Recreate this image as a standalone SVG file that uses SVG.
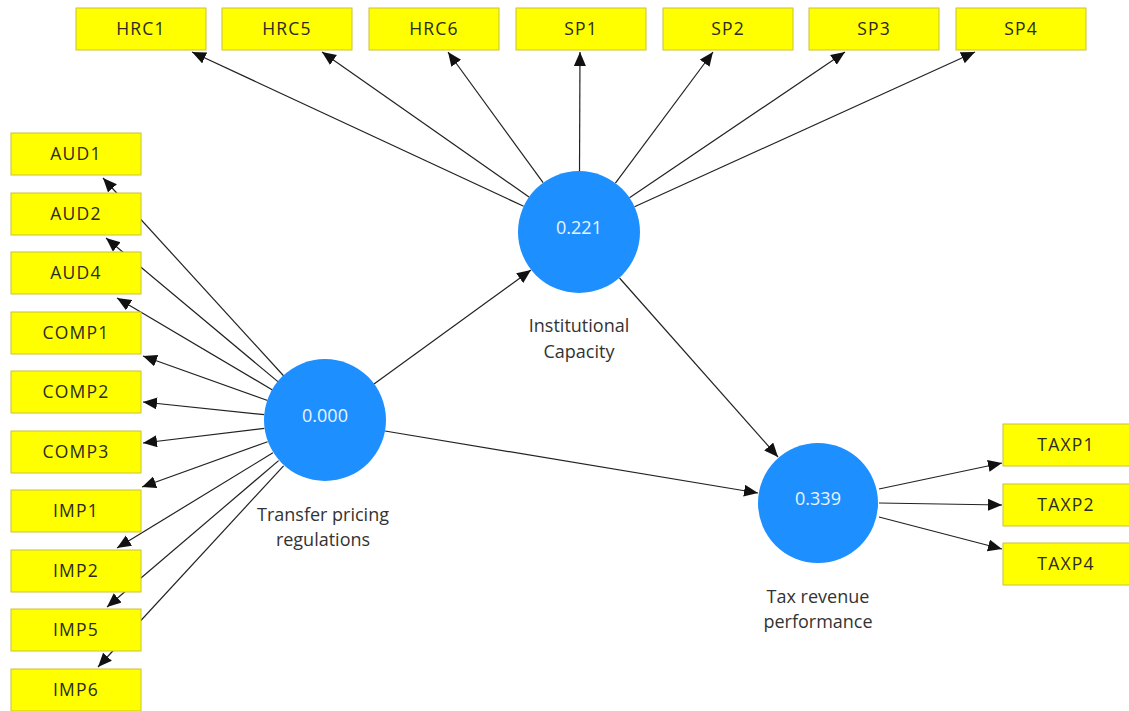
<svg xmlns="http://www.w3.org/2000/svg" width="1129" height="711" viewBox="0 0 1129 711">
  <style>
    .ind rect { fill: #ffff00; stroke: #c9c23a; stroke-width: 1; }
    .ind text { font-family: "Open Sans", "Noto Sans", sans-serif; font-size: 17.5px; fill: #2b2b1e; text-anchor: middle; letter-spacing: 1.2px; }
    .lv circle { fill: #1e8fff; }
    .lv .val { font-family: "Open Sans", "Noto Sans", sans-serif; font-size: 18px; fill: #eaf4ff; text-anchor: middle; }
    .lv .name { font-family: "Open Sans", "Noto Sans", sans-serif; font-size: 18px; fill: #333333; text-anchor: middle; }
    .edge { stroke: #222222; stroke-width: 1.2; fill: none; marker-end: url(#arrow); }
  </style>
  <defs>
    <marker id="arrow" markerUnits="userSpaceOnUse" markerWidth="15" markerHeight="13" refX="14" refY="6" orient="auto">
      <path d="M0,0 L14,6 L0,12 Z" fill="#111111"/>
    </marker>
  </defs>
  <rect width="1129" height="711" fill="#ffffff"/>

  <!-- connectors (drawn under the nodes) -->
  <g id="connectors">
    <!-- Institutional Capacity -> indicators -->
    <line class="edge" x1="523.7" y1="206.3" x2="192" y2="52"/>
    <line class="edge" x1="529" y1="197" x2="322" y2="52"/>
    <line class="edge" x1="543.1" y1="182.7" x2="448" y2="52"/>
    <line class="edge" x1="579.5" y1="171" x2="580" y2="52"/>
    <line class="edge" x1="615.4" y1="183.1" x2="713" y2="52"/>
    <line class="edge" x1="629.5" y1="197.8" x2="845" y2="52"/>
    <line class="edge" x1="634.5" y1="206.8" x2="975" y2="52"/>
    <!-- Transfer pricing regulations -> indicators -->
    <line class="edge" x1="283.8" y1="376" x2="103" y2="178"/>
    <line class="edge" x1="278.2" y1="381.9" x2="106" y2="238"/>
    <line class="edge" x1="272.5" y1="390" x2="117" y2="298"/>
    <line class="edge" x1="267.6" y1="400.5" x2="143" y2="356"/>
    <line class="edge" x1="264.3" y1="414.7" x2="143" y2="402"/>
    <line class="edge" x1="264.4" y1="428.3" x2="143" y2="443"/>
    <line class="edge" x1="267.6" y1="441.7" x2="142" y2="487"/>
    <line class="edge" x1="272.9" y1="452.8" x2="117" y2="548"/>
    <line class="edge" x1="278.6" y1="460.6" x2="107" y2="607"/>
    <line class="edge" x1="283.6" y1="465.8" x2="98" y2="667"/>
    <!-- structural paths -->
    <line class="edge" x1="374" y1="384" x2="531" y2="270"/>
    <line class="edge" x1="619.5" y1="278" x2="778" y2="457"/>
    <line class="edge" x1="385" y1="431" x2="758" y2="493"/>
    <!-- Tax revenue performance -> indicators -->
    <line class="edge" x1="879" y1="489" x2="1002" y2="463"/>
    <line class="edge" x1="879" y1="503" x2="1002" y2="505"/>
    <line class="edge" x1="879" y1="517" x2="1002" y2="549"/>
  </g>

  <!-- indicators of Institutional Capacity -->
  <g id="HRC1" class="ind"><rect x="76" y="8" width="130" height="42"/><text x="141" y="35">HRC1</text></g>
  <g id="HRC5" class="ind"><rect x="222" y="8" width="130" height="42"/><text x="287" y="35">HRC5</text></g>
  <g id="HRC6" class="ind"><rect x="369" y="8" width="130" height="42"/><text x="434" y="35">HRC6</text></g>
  <g id="SP1" class="ind"><rect x="516" y="8" width="130" height="42"/><text x="581" y="35">SP1</text></g>
  <g id="SP2" class="ind"><rect x="663" y="8" width="130" height="42"/><text x="728" y="35">SP2</text></g>
  <g id="SP3" class="ind"><rect x="809" y="8" width="130" height="42"/><text x="874" y="35">SP3</text></g>
  <g id="SP4" class="ind"><rect x="956" y="8" width="130" height="42"/><text x="1021" y="35">SP4</text></g>

  <!-- indicators of Transfer pricing regulations -->
  <g id="AUD1" class="ind"><rect x="11" y="133" width="130" height="42"/><text x="76" y="160">AUD1</text></g>
  <g id="AUD2" class="ind"><rect x="11" y="193" width="130" height="42"/><text x="76" y="220">AUD2</text></g>
  <g id="AUD4" class="ind"><rect x="11" y="252" width="130" height="42"/><text x="76" y="279">AUD4</text></g>
  <g id="COMP1" class="ind"><rect x="11" y="312" width="130" height="42"/><text x="76" y="339">COMP1</text></g>
  <g id="COMP2" class="ind"><rect x="11" y="371" width="130" height="42"/><text x="76" y="398">COMP2</text></g>
  <g id="COMP3" class="ind"><rect x="11" y="431" width="130" height="42"/><text x="76" y="458">COMP3</text></g>
  <g id="IMP1" class="ind"><rect x="11" y="490" width="130" height="42"/><text x="76" y="517">IMP1</text></g>
  <g id="IMP2" class="ind"><rect x="11" y="550" width="130" height="42"/><text x="76" y="577">IMP2</text></g>
  <g id="IMP5" class="ind"><rect x="11" y="609" width="130" height="42"/><text x="76" y="636">IMP5</text></g>
  <g id="IMP6" class="ind"><rect x="11" y="669" width="130" height="42"/><text x="76" y="696">IMP6</text></g>

  <!-- indicators of Tax revenue performance -->
  <g id="TAXP1" class="ind"><rect x="1003" y="424" width="130" height="42"/><text x="1066" y="451">TAXP1</text></g>
  <g id="TAXP2" class="ind"><rect x="1003" y="484" width="130" height="42"/><text x="1066" y="511">TAXP2</text></g>
  <g id="TAXP4" class="ind"><rect x="1003" y="543" width="130" height="42"/><text x="1066" y="570">TAXP4</text></g>

  <!-- latent variables -->
  <g id="transfer-pricing" class="lv">
    <circle cx="325" cy="420" r="61"/>
    <text class="val" x="325" y="422">0.000</text>
    <text class="name" x="323" y="521">Transfer pricing</text>
    <text class="name" x="323" y="546">regulations</text>
  </g>
  <g id="institutional-capacity" class="lv">
    <circle cx="579" cy="232" r="61"/>
    <text class="val" x="579" y="234">0.221</text>
    <text class="name" x="579" y="332">Institutional</text>
    <text class="name" x="579" y="358">Capacity</text>
  </g>
  <g id="tax-revenue" class="lv">
    <circle cx="818" cy="503" r="60"/>
    <text class="val" x="818" y="505">0.339</text>
    <text class="name" x="818" y="603">Tax revenue</text>
    <text class="name" x="818" y="628">performance</text>
  </g>
</svg>
